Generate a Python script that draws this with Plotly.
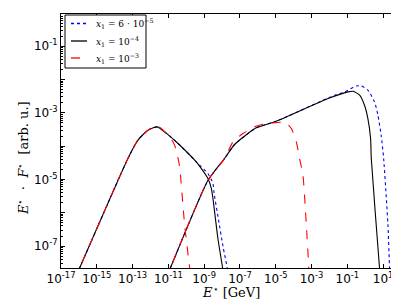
import numpy as np
import plotly.graph_objects as go

# log10(E*) and log10(E*.F*)
blue_lx = [-16.24, -15.96, -13.26, -12.70, -12.14, -11.62, -11.21, -10.46, -9.44, -9.16, -8.79, -8.51, -8.45, -8.20, -7.95, -7.71, -7.60]
blue_ly = [-8.0, -7.66, -4.37, -3.82, -3.52, -3.42, -3.57, -3.92, -4.47, -4.62, -4.82, -5.12, -5.40, -6.20, -7.00, -7.66, -8.0]
blue2_lx = [-11.16, -10.89, -8.79, -7.86, -7.30, -6.09, -5.06, -1.70, -1.15, -0.50, -0.22, 0.15, 0.52, 0.71, 0.89, 1.03, 1.27, 1.36, 1.40]
blue2_ly = [-8.0, -7.66, -5.03, -4.37, -3.95, -3.45, -3.27, -2.47, -2.37, -2.19, -2.19, -2.32, -2.67, -3.07, -3.67, -4.37, -6.37, -7.66, -8.0]

black_lx = [-16.24, -15.96, -13.26, -12.70, -12.14, -11.62, -11.21, -10.46, -9.44, -9.35, -8.79, -8.60, -8.51, -8.23, -7.97, -7.90]
black_ly = [-8.0, -7.66, -4.37, -3.82, -3.52, -3.42, -3.57, -3.92, -4.47, -4.53, -4.97, -5.27, -5.57, -6.78, -7.66, -8.0]
black2_lx = [-11.16, -10.89, -8.79, -7.86, -7.30, -6.09, -5.06, -2.07, -0.96, -0.68, -0.31, -0.04, 0.15, 0.30, 0.34, 0.80, 0.85]
black2_ly = [-8.0, -7.66, -5.03, -4.37, -3.95, -3.45, -3.27, -2.57, -2.37, -2.35, -2.47, -2.77, -3.17, -3.77, -4.37, -7.66, -8.0]

red_lx = [-16.24, -15.96, -13.26, -12.70, -12.14, -11.62, -10.93, -10.65, -10.46, -10.37, -10.09, -9.81, -9.75]
red_ly = [-8.0, -7.66, -4.37, -3.82, -3.52, -3.39, -3.72, -3.97, -4.37, -4.62, -6.37, -7.66, -8.0]
red2_lx = [-11.16, -10.89, -8.79, -7.86, -7.39, -6.83, -6.18, -5.53, -4.88, -4.50, -4.13, -3.85, -3.67, -3.48, -3.29, -3.15, -3.12]
red2_ly = [-8.0, -7.66, -5.03, -4.37, -3.87, -3.62, -3.42, -3.32, -3.29, -3.27, -3.47, -3.87, -4.37, -4.87, -6.37, -7.66, -8.0]

names = ["<i>x</i><sub>1</sub> = 6 · 10<sup>−5</sup>", "<i>x</i><sub>1</sub> = 10<sup>−4</sup>", "<i>x</i><sub>1</sub> = 10<sup>−3</sup>"]
colors = ["blue", "black", "red"]
dashes = ["dot", "solid", "dash"]
x_decades = list(range(-17, 3))
y_decades = list(range(-8, 1))

W, H = 399, 301
ML, MR, MT, MB = 53, 6, 6, 41
PW, PH = W - ML - MR, H - MT - MB


def p(v):
    return [10.0 ** a for a in v]


def seg(a, b, c, d):
    return p(a) + [None] + p(c), p(b) + [None] + p(d)


def px(xp):
    return (xp - ML) / PW


def py(yp):
    return (H - MB - yp) / PH


fig = go.Figure()
curves = [(blue_lx, blue_ly, blue2_lx, blue2_ly),
          (black_lx, black_ly, black2_lx, black2_ly),
          (red_lx, red_ly, red2_lx, red2_ly)]
for (a, b, c, d), nm, col, dash in zip(curves, names, colors, dashes):
    xs, ys = seg(a, b, c, d)
    fig.add_trace(go.Scatter(x=xs, y=ys, mode="lines", name=nm, showlegend=False,
                             line=dict(color=col, dash=dash, width=1.1, shape="spline", smoothing=0.6),
                             connectgaps=False))

# hand-made legend box (matplotlib style)
shapes = [dict(type="rect", xref="paper", yref="paper", x0=px(57), x1=px(138), y0=py(60), y1=py(7),
               line=dict(color="black", width=1), fillcolor="white", layer="above")]
annotations = []
rows = [15.5, 33, 50]
for ry, nm, col, dash in zip(rows, names, colors, dashes):
    shapes.append(dict(type="line", xref="paper", yref="paper", x0=px(63), x1=px(79), y0=py(ry), y1=py(ry),
                       line=dict(color=col, width=1.3, dash=dash), layer="above"))
    annotations.append(dict(x=px(86), y=py(ry), xref="paper", yref="paper", text=nm, showarrow=False,
                            xanchor="left", yanchor="middle", font=dict(family="DejaVu Serif", size=9, color="black")))

annotations.append(dict(x=px(223), y=py(284), xref="paper", yref="paper",
                        text="<i>E</i><sup>⋆</sup> [GeV]", showarrow=False, xanchor="center", yanchor="middle",
                        font=dict(family="DejaVu Serif", size=13, color="black")))
annotations.append(dict(x=px(15), y=py(150), xref="paper", yref="paper", textangle=-90,
                        text="<i>E</i><sup>⋆</sup>&nbsp;&nbsp;·&nbsp;&nbsp;<i>F</i><sup>⋆</sup>&nbsp;&nbsp;[arb. u.]",
                        showarrow=False, xanchor="center", yanchor="middle",
                        font=dict(family="DejaVu Serif", size=13, color="black")))

xtv = [10.0 ** k for k in x_decades if k % 2 != 0]
xtt = ["10<sup>%d</sup>" % k for k in x_decades if k % 2 != 0]
ytv = [10.0 ** k for k in y_decades]
ytt = [("10<sup>%d</sup>" % k) if k % 2 != 0 else "" for k in y_decades]
yminor = [m * 10.0 ** k for k in y_decades for m in range(2, 10)]

fig.update_layout(
    width=W, height=H,
    margin=dict(l=ML, r=MR, t=MT, b=MB),
    paper_bgcolor="white", plot_bgcolor="white",
    showlegend=False,
    shapes=shapes, annotations=annotations,
    font=dict(family="DejaVu Sans", size=12, color="black"),
)
fig.update_xaxes(type="log", range=[-17, 2], tickmode="array", tickvals=xtv, ticktext=xtt,
                 ticks="inside", ticklen=4, tickcolor="black", showline=True, linecolor="black",
                 linewidth=1, mirror="ticks", showgrid=False, zeroline=False)
fig.update_yaxes(type="log", range=[-7.66, -0.03], tickmode="array", tickvals=ytv, ticktext=ytt,
                 ticks="inside", ticklen=4, tickcolor="black", showline=True, linecolor="black",
                 linewidth=1, mirror="ticks", showgrid=False, zeroline=False,
                 minor=dict(tickvals=yminor, ticks="inside", ticklen=2, tickcolor="black", showgrid=False))

fig.write_html("out.html")
